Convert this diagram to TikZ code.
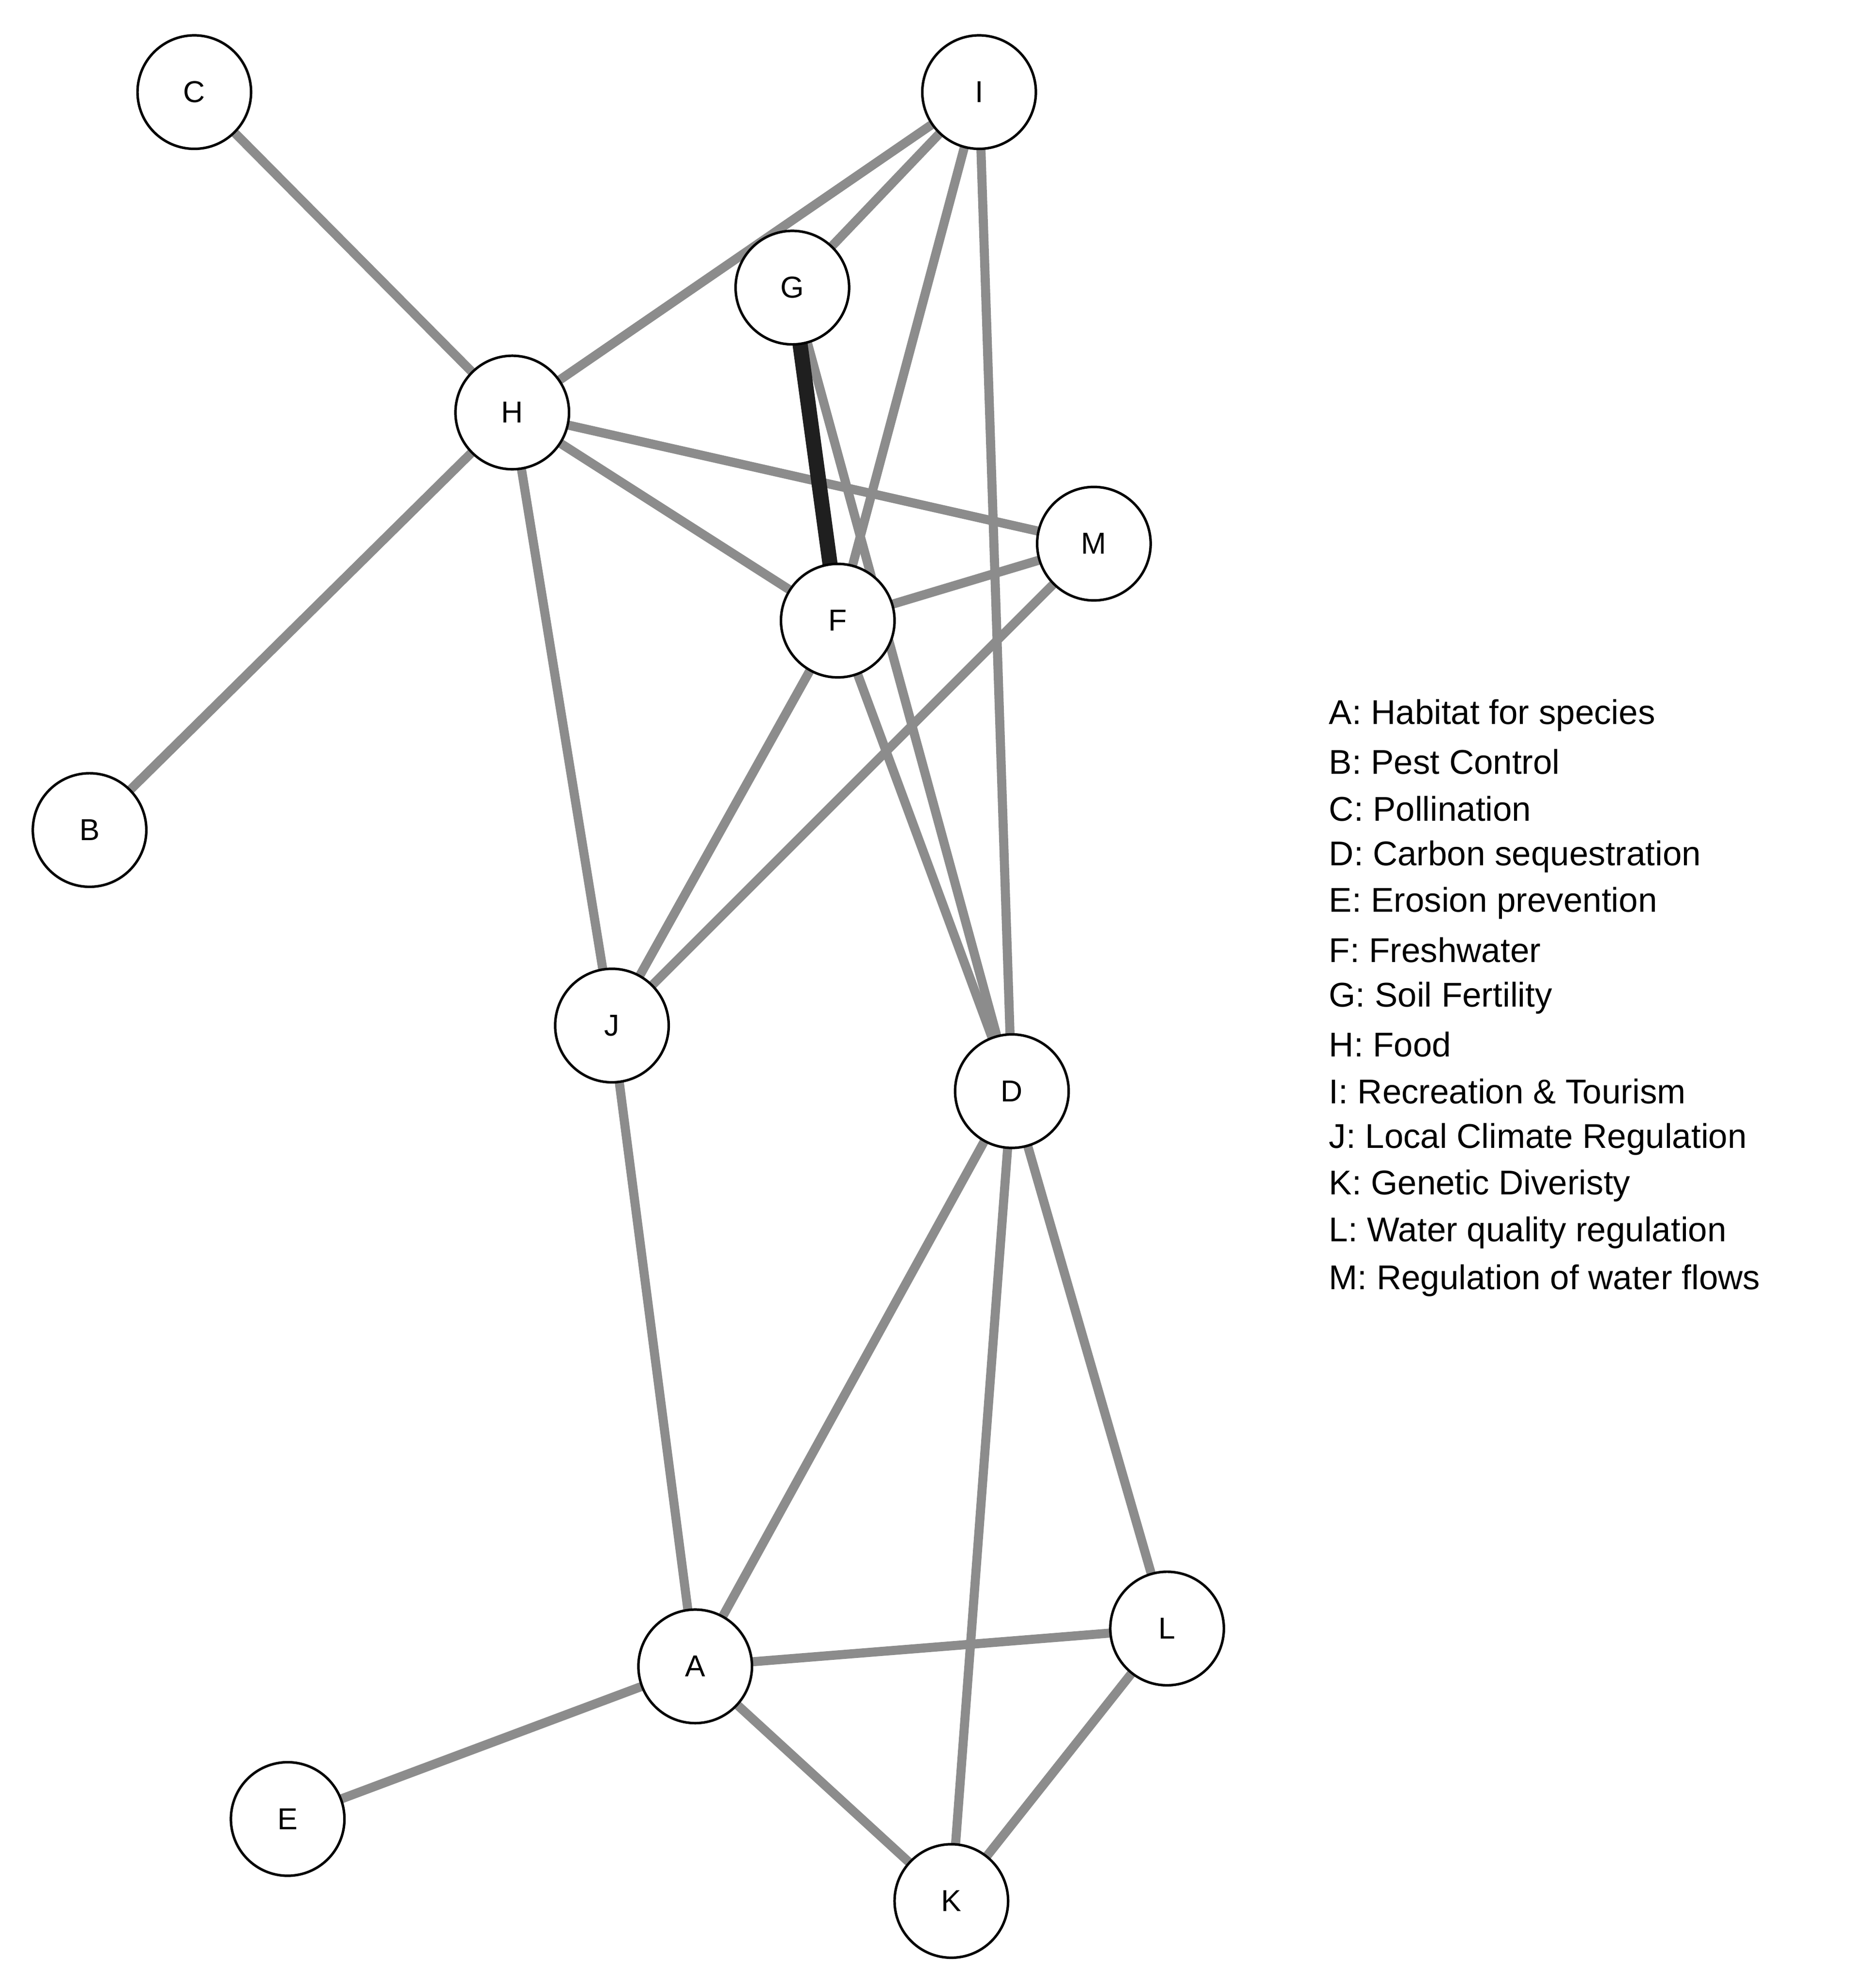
\documentclass[tikz,border=0pt]{standalone}
\usepackage{fontspec}
\setmainfont{Liberation Sans}
\begin{document}
\begin{tikzpicture}[x=0.5pt,y=-0.5pt,
  v/.style={circle,draw=black,line width=1pt,fill=white,minimum size=45pt,inner sep=0pt,font=\fontsize{12}{14}\selectfont},
  e/.style={draw=black!45,line width=3.6pt},
  s/.style={draw=black!88,line width=6pt},
  lg/.style={anchor=west,inner sep=0pt,font=\fontsize{13.6}{16}\selectfont}]
\useasboundingbox[fill=white] (0,0) rectangle (1466,1576);
\path (154,73) coordinate (pC) (776,73) coordinate (pI) (628,228) coordinate (pG)
 (406,327) coordinate (pH) (867,431) coordinate (pM) (664,492) coordinate (pF)
 (71,658) coordinate (pB) (485,813) coordinate (pJ) (802,865) coordinate (pD)
 (925,1291) coordinate (pL) (551,1321) coordinate (pA) (228,1442) coordinate (pE)
 (754,1507) coordinate (pK);
\foreach \a/\b in {C/H,H/B,H/I,G/I,H/M,H/F,H/J,G/D,I/F,I/D,F/M,F/J,M/J,F/D,J/A,D/A,D/K,D/L,A/L,A/E,A/K,K/L}
  \draw[e] (p\a) -- (p\b);
\draw[s] (pG) -- (pF);
\foreach \n in {A,B,C,D,E,F,G,H,I,J,K,L,M}
  \node[v] (\n) at (p\n) {\n};
\node[lg] (l1) at (1053,567) {A: Habitat for species};
\node[lg] (l2) at (1053,604) {B: Pest Control};
\node[lg] (l3) at (1053,641) {C: Pollination};
\node[lg] (l4) at (1053,679) {D: Carbon sequestration};
\node[lg] (l5) at (1053,716) {E: Erosion prevention};
\node[lg] (l6) at (1053,753) {F: Freshwater};
\node[lg] (l7) at (1053,791) {G: Soil Fertility};
\node[lg] (l8) at (1053,828) {H: Food};
\node[lg] (l9) at (1053,865) {I: Recreation \& Tourism};
\node[lg] (l10) at (1053,903) {J: Local Climate Regulation};
\node[lg] (l11) at (1053,940) {K: Genetic Diveristy};
\node[lg] (l12) at (1053,977) {L: Water quality regulation};
\node[lg] (l13) at (1053,1015) {M: Regulation of water flows};
\end{tikzpicture}
\end{document}
